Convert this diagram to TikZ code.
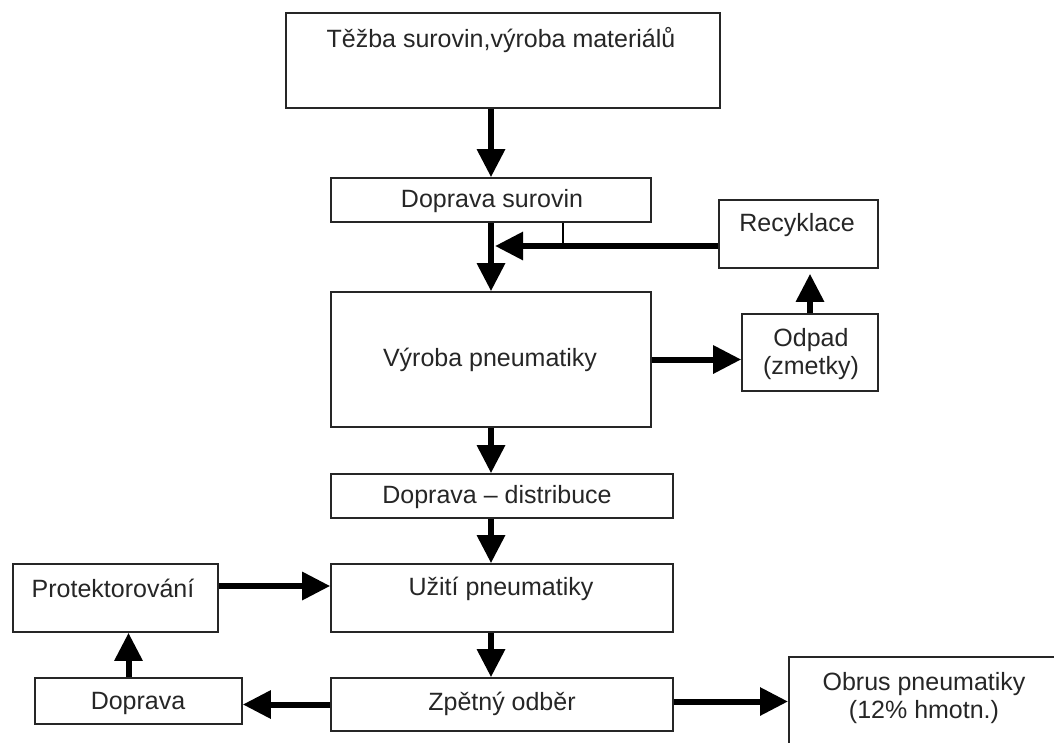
\documentclass[tikz,border=0pt]{standalone}
\usepackage{fontspec}
\setmainfont{Liberation Sans}
\usetikzlibrary{arrows.meta,calc}
\begin{document}
\begin{tikzpicture}[x=1pt,y=-1pt,
  box/.style={draw=black!85,line width=1.6pt,inner sep=0pt,fill=none},
  lbl/.style={inner sep=0pt,font=\fontsize{25}{28}\selectfont,text=black!85,align=center},
  arr/.style={line width=6pt,-{Triangle[length=28pt,width=27pt]}},
  thinline/.style={line width=1.8pt}]
\useasboundingbox (0,0) rectangle (1054,742);
\fill[white] (0,0) rectangle (1054,742);
\clip (0,0) rectangle (1054,742);
% boxes
\node[box,minimum width=434pt,minimum height=95pt] (A) at (503,60.5) {};
\node[box,minimum width=320pt,minimum height=44pt] (B) at (491,200) {};
\node[box,minimum width=159pt,minimum height=68pt] (R) at (798.5,234) {};
\node[box,minimum width=320pt,minimum height=135pt] (V) at (491,359.5) {};
\node[box,minimum width=136pt,minimum height=77pt] (O) at (810,352.5) {};
\node[box,minimum width=342pt,minimum height=44pt] (DD) at (502,496) {};
\node[box,minimum width=342pt,minimum height=68pt] (U) at (502,598) {};
\node[box,minimum width=205pt,minimum height=68pt] (P) at (115.5,598) {};
\node[box,minimum width=342pt,minimum height=53pt] (Z) at (502,704.5) {};
\node[box,minimum width=207pt,minimum height=46pt] (D) at (138.5,701) {};
\node[box,minimum width=290pt,minimum height=110pt,anchor=north west] (Ob) at (788,656) {};
% texts
\node[lbl] (tA) at (501,40) {Těžba surovin,výroba materiálů};
\node[lbl] (tB) at (492,201) {Doprava surovin};
\node[lbl] (tR) at (797,225) {Recyklace};
\node[lbl] (tV) at (490,360) {Výroba pneumatiky};
\node[lbl] (tO) at (811,354) {Odpad\\(zmetky)};
\node[lbl] (tDD) at (497,497) {Doprava – distribuce};
\node[lbl] (tU) at (501,589) {Užití pneumatiky};
\node[lbl] (tP) at (113,588) {Protektorování};
\node[lbl] (tZ) at (502,704) {Zpětný odběr};
\node[lbl] (tD) at (138,703) {Doprava};
\node[lbl] (tOb) at (924,698) {Obrus pneumatiky\\(12\% hmotn.)};
% junctions
\coordinate (J) at (495,246);
\coordinate (J2) at (563,246);
% connectors
\draw[arr] (B.north |- A.south) -- (B.north);
\draw[arr] (B.south) -- (V.north);
\draw[thinline] (J2 |- B.south) -- (J2);
\draw[arr] (R.west |- J) -- (J);
\draw[arr] (V.east) -- (V.east -| O.west);
\draw[arr] (O.north) -- ([yshift=-5pt]O.north |- R.south);
\draw[arr] (V.south) -- (V.south |- DD.north);
\draw[arr] (V.south |- DD.south) -- (V.south |- U.north);
\draw[arr] ([yshift=12pt]P.east) -- ([yshift=12pt]P.east -| U.west);
\draw[arr] (V.south |- U.south) -- (V.south |- Z.north);
\draw[arr] (Z.west) -- (Z.west -| D.east);
\draw[arr] ([xshift=-10pt]D.north) -- ([xshift=-10pt]D.north |- P.south);
\draw[arr] ([yshift=3pt]Z.east) -- ([yshift=3pt]Z.east -| Ob.west);
\end{tikzpicture}
\end{document}
